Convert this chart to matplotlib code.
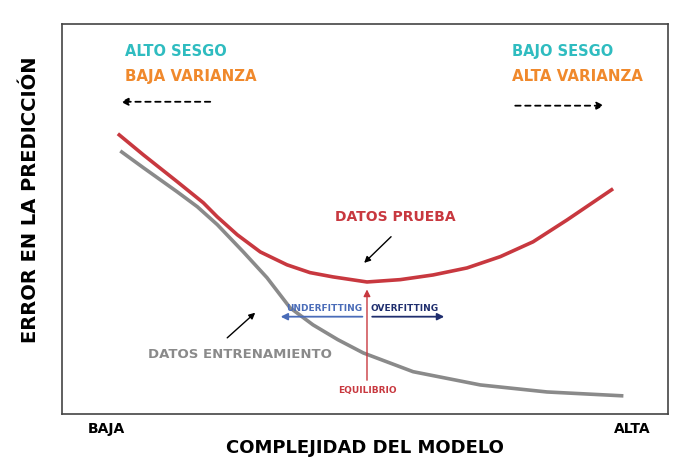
import matplotlib.pyplot as plt

# model complexity (0 = baja, 10 = alta) and prediction error
test_x = [0.92, 1.34, 1.90, 2.33, 2.56, 2.89, 3.27, 3.71, 4.09, 4.47, 5.03, 5.58,
          6.12, 6.68, 7.23, 7.77, 8.33, 9.09]
test_err = [7.18, 6.64, 5.95, 5.41, 5.05, 4.59, 4.15, 3.82, 3.62, 3.51, 3.38, 3.44,
            3.56, 3.74, 4.03, 4.41, 4.97, 5.77]

train_x = [0.96, 1.34, 1.90, 2.23, 2.56, 2.99, 3.38, 3.76, 4.14, 4.55, 4.97, 5.79,
           6.90, 8.00, 9.26]
train_err = [6.74, 6.31, 5.69, 5.31, 4.85, 4.15, 3.49, 2.72, 2.28, 1.90, 1.56, 1.08,
             0.74, 0.56, 0.46]

tick_pos = [0.73, 9.4]
tick_labels = ['BAJA', 'ALTA']

RED = '#c8383f'
GRAY = '#8a8a8a'
TEAL = '#2fbcc0'
ORANGE = '#f0892c'
BLUE = '#4a6cb8'
NAVY = '#1f2e6e'

fig = plt.figure(figsize=(6.75, 4.66), dpi=100)
ax = fig.add_axes([0.092, 0.112, 0.898, 0.837])

ax.plot(train_x, train_err, color=GRAY, lw=2.6, solid_capstyle='butt', solid_joinstyle='round')
ax.plot(test_x, test_err, color=RED, lw=2.6, solid_capstyle='butt', solid_joinstyle='round')

ax.set_xlim(0, 10)
ax.set_ylim(0, 10)
ax.set_yticks([])
ax.set_xticks(tick_pos)
ax.set_xticklabels(tick_labels, fontsize=10, fontweight='heavy')
ax.tick_params(axis='x', length=0, pad=6)
for s in ax.spines.values():
    s.set_color('#444444')
    s.set_linewidth(1.2)

ax.set_xlabel('COMPLEJIDAD DEL MODELO', fontsize=13, fontweight='heavy', labelpad=2)
ax.set_ylabel('ERROR EN LA PREDICCIÓN', fontsize=14, fontweight='heavy')
ax.yaxis.set_label_coords(-0.037, 0.55)

# corner notes
ax.text(1.04, 9.28, 'ALTO SESGO', color=TEAL, fontsize=10.5, fontweight='heavy', va='center')
ax.text(1.04, 8.64, 'BAJA VARIANZA', color=ORANGE, fontsize=10.8, fontweight='heavy', va='center')
ax.annotate('', xy=(0.92, 8.0), xytext=(2.49, 8.0),
            arrowprops=dict(arrowstyle='-|>', color='black', lw=1.3, ls=(0, (3, 2.5)), mutation_scale=11))
ax.text(7.43, 9.28, 'BAJO SESGO', color=TEAL, fontsize=10.5, fontweight='heavy', va='center')
ax.text(7.43, 8.64, 'ALTA VARIANZA', color=ORANGE, fontsize=10.8, fontweight='heavy', va='center')
ax.annotate('', xy=(8.99, 7.9), xytext=(7.43, 7.9),
            arrowprops=dict(arrowstyle='-|>', color='black', lw=1.3, ls=(0, (3, 2.5)), mutation_scale=11))

# curve labels
ax.text(5.50, 5.05, 'DATOS PRUEBA', color=RED, fontsize=10, fontweight='heavy', ha='center', va='center')
ax.annotate('', xy=(4.95, 3.82), xytext=(5.46, 4.59),
            arrowprops=dict(arrowstyle='-|>', color='black', lw=1, mutation_scale=9))
ax.text(2.94, 1.51, 'DATOS ENTRENAMIENTO', color=GRAY, fontsize=9.5, fontweight='heavy', ha='center', va='center')
ax.annotate('', xy=(3.22, 2.64), xytext=(2.69, 1.90),
            arrowprops=dict(arrowstyle='-|>', color='black', lw=1, mutation_scale=9))

# equilibrium and under/overfitting
ax.annotate('', xy=(5.03, 3.26), xytext=(5.03, 0.79),
            arrowprops=dict(arrowstyle='-|>', color=RED, lw=1, mutation_scale=10))
ax.text(5.03, 0.59, 'EQUILIBRIO', color=RED, fontsize=6.5, fontweight='heavy', ha='center', va='center')
ax.annotate('', xy=(3.56, 2.49), xytext=(5.0, 2.49),
            arrowprops=dict(arrowstyle='-|>', color=BLUE, lw=1.3, mutation_scale=10))
ax.annotate('', xy=(6.35, 2.49), xytext=(5.07, 2.49),
            arrowprops=dict(arrowstyle='-|>', color=NAVY, lw=1.3, mutation_scale=10))
ax.text(4.95, 2.69, 'UNDERFITTING', color=BLUE, fontsize=6.5, fontweight='heavy', ha='right', va='center')
ax.text(5.09, 2.69, 'OVERFITTING', color=NAVY, fontsize=6.5, fontweight='heavy', ha='left', va='center')

fig.savefig('out.png', dpi=100)
